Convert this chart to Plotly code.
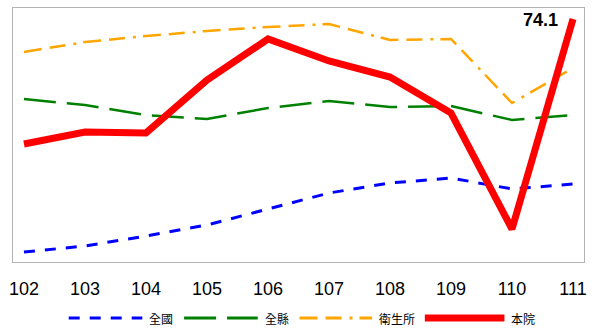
import plotly.graph_objects as go

years = ["102", "103", "104", "105", "106", "107", "108", "109", "110", "111"]

# values (only 74.1 is printed in the original)
nation = [50.8, 51.4, 52.4, 53.5, 55.1, 56.7, 57.7, 58.2, 57.1, 57.6]
county = [66.1, 65.5, 64.5, 64.1, 65.2, 65.9, 65.3, 65.4, 64.0, 64.5]
health_station = [70.8, 71.8, 72.4, 72.9, 73.3, 73.6, 72.0, 72.1, 65.7, 69.2]
hospital = [61.6, 62.8, 62.7, 68.0, 72.1, 69.9, 68.3, 64.7, 53.1, 74.1]

names = ["全國", "全縣", "衛生所", "本院"]
colors = ["#0000ff", "#008000", "#ffa500", "#ff0000"]
widths = [3, 2.5, 2.5, 7]
dashes = ["11px,10px", "32px,11px", "18px,8px,16px,8px,3px,7px", "solid"]

fig = go.Figure()
for vals, name, col, w, d in zip([nation, county, health_station, hospital],
                                 names, colors, widths, dashes):
    fig.add_trace(go.Scatter(x=years, y=vals, mode="lines", name=name,
                             line=dict(color=col, width=w, dash=d),
                             showlegend=False))

# label of the last value; category axis position given as index
fig.add_annotation(x=len(years) - 1, y=hospital[-1], text="<b>%.1f</b>" % hospital[-1],
                   showarrow=False, xanchor="right", yanchor="middle",
                   xshift=-13, yshift=-1,
                   font=dict(family="Liberation Sans, Arial", size=18, color="black"))

# hand drawn legend under the axis (pixel positions converted to paper units)
def px(x):
    return (x - 13) / 574.0

leg_y = (262 - 318) / 254.0
sample_x = [(69, 143), (185, 259), (301, 374), (427, 507)]
for (x0, x1), name, col, w, d in zip(sample_x, names, colors, widths, dashes):
    fig.add_shape(type="line", xref="paper", yref="paper",
                  x0=px(x0), x1=px(x1), y0=leg_y, y1=leg_y,
                  line=dict(color=col, width=w if w > 3 else 3, dash=d))
    fig.add_annotation(xref="paper", yref="paper", x=px(x1 + 5), y=leg_y,
                       text=name, showarrow=False, xanchor="left", yanchor="middle",
                       font=dict(family="Noto Sans CJK TC", size=12, color="black"))

fig.update_xaxes(type="category", range=[-0.18, 9.18], showgrid=False,
                 showline=True, mirror=True, linecolor="#b3b3b3", linewidth=1,
                 ticks="", ticklabelstandoff=10,
                 tickfont=dict(family="Liberation Sans, Arial", size=18, color="black"))
fig.update_yaxes(range=[49.8, 75.2], showgrid=False, zeroline=False,
                 showticklabels=False, ticks="",
                 showline=True, mirror=True, linecolor="#b3b3b3", linewidth=1)

fig.update_layout(width=592, height=330, margin=dict(l=13, r=5, t=8, b=68),
                  plot_bgcolor="white", paper_bgcolor="white")

fig.write_html("out.html", config={"displayModeBar": False},
               post_script="document.body.style.margin='0px';")
